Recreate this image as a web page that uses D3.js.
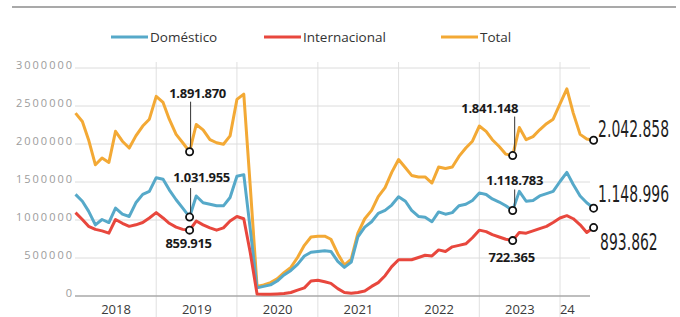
<!DOCTYPE html>
<html lang="es">
<head>
<meta charset="utf-8">
<script src="https://cdn.jsdelivr.net/npm/d3@7"></script>
<style>
  body { margin: 0; background: #fff; }
  svg { display: block; font-family: "Open Sans", sans-serif; }
</style>
</head>
<body>
<svg id="chart" width="680" height="317"></svg>
<script>
// monthly passengers, Jan 2018 .. Jun 2024
const domestico = [
  1330000, 1240000, 1110000, 930000, 1000000, 960000, 1150000, 1070000, 1040000, 1220000, 1330000, 1370000,
  1550000, 1530000, 1390000, 1260000, 1150000, 1031955, 1310000, 1220000, 1200000, 1180000, 1180000, 1290000,
  1570000, 1590000, 880000, 100000, 120000, 140000, 190000, 270000, 330000, 410000, 520000, 570000,
  580000, 590000, 580000, 450000, 370000, 440000, 770000, 900000, 970000, 1080000, 1120000, 1190000,
  1300000, 1240000, 1120000, 1040000, 1030000, 970000, 1100000, 1070000, 1090000, 1180000, 1200000, 1250000,
  1350000, 1330000, 1270000, 1230000, 1180000, 1118783, 1370000, 1240000, 1250000, 1310000, 1340000, 1370000,
  1500000, 1620000, 1460000, 1310000, 1220000, 1148996
];
const internacional = [
  1090000, 1000000, 910000, 870000, 850000, 820000, 1000000, 950000, 910000, 930000, 960000, 1020000,
  1090000, 1020000, 950000, 900000, 870000, 859915, 980000, 930000, 890000, 860000, 890000, 980000,
  1040000, 1010000, 570000, 20000, 15000, 15000, 20000, 25000, 40000, 70000, 100000, 190000,
  200000, 180000, 160000, 90000, 40000, 30000, 40000, 60000, 120000, 170000, 260000, 380000,
  470000, 470000, 470000, 500000, 530000, 520000, 600000, 580000, 640000, 660000, 680000, 760000,
  860000, 840000, 800000, 770000, 740000, 722365, 830000, 820000, 850000, 880000, 910000, 960000,
  1020000, 1050000, 1010000, 930000, 830000, 893862
];
const total = [
  2400000, 2290000, 2050000, 1720000, 1810000, 1750000, 2160000, 2030000, 1940000, 2100000, 2230000, 2320000,
  2620000, 2540000, 2320000, 2120000, 2010000, 1891870, 2250000, 2180000, 2050000, 2010000, 1990000, 2100000,
  2580000, 2650000, 1450000, 120000, 140000, 170000, 220000, 300000, 370000, 500000, 660000, 770000,
  780000, 780000, 740000, 550000, 400000, 480000, 820000, 1010000, 1120000, 1300000, 1420000, 1620000,
  1790000, 1680000, 1580000, 1560000, 1560000, 1480000, 1690000, 1670000, 1690000, 1830000, 1940000, 2030000,
  2230000, 2160000, 2050000, 1960000, 1860000, 1841148, 2210000, 2050000, 2090000, 2180000, 2260000, 2320000,
  2520000, 2720000, 2400000, 2120000, 2060000, 2042858
];
const seriesNames = ['Doméstico', 'Internacional', 'Total'];
const yTicks = [0, 500000, 1000000, 1500000, 2000000, 2500000, 3000000];
const xLabels = ['2018', '2019', '2020', '2021', '2022', '2023', '24'];
const markIdx = [17, 65]; // annotated months (Jun 2019, Jun 2023)

const fmt = d3.formatLocale({ decimal: ',', thousands: '.', grouping: [3] }).format(',d');
const colors = { 'Doméstico': '#56a9c9', 'Internacional': '#e8473d', 'Total': '#f3a935' };

const months = d3.range(total.length).map(i => d3.timeMonth.offset(new Date(2018, 0, 1), i));
const yearStarts = d3.range(2019, 2025).map(yr => new Date(yr, 0, 1));
const labelDates = d3.range(2018, 2024).map(yr => new Date(yr, 6, 1)).concat([new Date(2024, 1, 1)]);

const svg = d3.select('#chart');
const plotLeft = 75, plotRight = 590, plotTop = 67.5, plotBottom = 295.5;

const x = d3.scaleTime()
  .domain([new Date(2018, 0, 1), new Date(2024, 0, 1)])
  .range([75.5, 560]);
const y = d3.scaleLinear().domain([0, 3000000]).range([plotBottom, plotTop]);

// top rule
svg.append('line')
  .attr('x1', 12).attr('x2', 676).attr('y1', 7).attr('y2', 7)
  .attr('stroke', '#8c8c8c').attr('stroke-width', 1.6);

// legend
const legendX = [111, 264, 441];
const legend = svg.append('g').selectAll('g').data(seriesNames).join('g')
  .attr('transform', (d, i) => `translate(${legendX[i]},37)`);
legend.append('line')
  .attr('x1', 0).attr('x2', 37)
  .attr('stroke', d => colors[d]).attr('stroke-width', 3);
legend.append('text')
  .attr('x', 39).attr('dy', '0.35em')
  .attr('font-size', 13.5).attr('fill', '#333')
  .text(d => d);

// vertical year separators
svg.append('g')
  .selectAll('line').data(yearStarts).join('line')
  .attr('x1', d => x(d)).attr('x2', d => x(d))
  .attr('y1', 62).attr('y2', 317)
  .attr('stroke', '#e0e0e0').attr('stroke-width', 1);

// y axis with gridlines
const yAxis = svg.append('g')
  .attr('transform', `translate(${plotLeft},0)`)
  .call(d3.axisLeft(y).tickValues(yTicks).tickSize(-(plotRight - plotLeft)).tickFormat(d3.format('d')));
yAxis.select('.domain').remove();
yAxis.selectAll('.tick line')
  .attr('stroke', d => d === 0 ? '#a8a8a8' : '#dcdcdc')
  .attr('stroke-width', d => d === 0 ? 1.3 : 1);
yAxis.selectAll('.tick text')
  .attr('x', -1).attr('dy', '0.05em')
  .attr('font-family', '"Open Sans", sans-serif')
  .attr('font-size', 11).attr('letter-spacing', 2)
  .attr('fill', '#9c9c9c');

// x labels
const xAxis = svg.append('g')
  .attr('transform', `translate(0,${plotBottom})`)
  .call(d3.axisBottom(x).tickValues(labelDates).tickSize(0).tickFormat((d, i) => xLabels[i]));
xAxis.select('.domain').remove();
xAxis.selectAll('.tick text')
  .attr('y', 9).attr('dy', '0.71em')
  .attr('font-family', '"Open Sans", sans-serif')
  .attr('font-size', 13).attr('fill', '#3a3a3a');

// lines
const series = [
  { name: 'Total', values: total },
  { name: 'Doméstico', values: domestico },
  { name: 'Internacional', values: internacional }
];
const line = d3.line().x((d, i) => x(months[i])).y(d => y(d));
svg.append('g').selectAll('path').data(series).join('path')
  .attr('d', d => line(d.values))
  .attr('fill', 'none')
  .attr('stroke', d => colors[d.name])
  .attr('stroke-width', 3)
  .attr('stroke-linejoin', 'round');

// annotations
const ann = svg.append('g');
const boldText = (tx, ty, s) => ann.append('text')
  .attr('x', tx).attr('y', ty).attr('text-anchor', 'middle')
  .attr('font-weight', 700).attr('font-size', 13).attr('letter-spacing', -0.3)
  .attr('fill', '#1a1a1a').text(s);
const leader = (lx, y1, y2) => ann.append('line')
  .attr('x1', lx).attr('x2', lx).attr('y1', y1).attr('y2', y2)
  .attr('stroke', '#333').attr('stroke-width', 1);

// Jun 2019
{
  const i = markIdx[0], cx = x(months[i]);
  const ct = y(total[i]), cd = y(domestico[i]), ci = y(internacional[i]);
  leader(cx + 1, ct - 4, ct - 50);
  boldText(cx + 8, ct - 54, fmt(total[i]));
  leader(cx + 1, cd - 4, cd - 29);
  boldText(cx + 12, cd - 35, fmt(domestico[i]));
  boldText(cx - 1, ci + 18, fmt(internacional[i]));
}
// Jun 2023
{
  const i = markIdx[1], cx = x(months[i]);
  const ct = y(total[i]), cd = y(domestico[i]), ci = y(internacional[i]);
  leader(cx + 2, ct - 4, ct - 39);
  boldText(cx - 23, ct - 43, fmt(total[i]));
  leader(cx + 2, cd - 4, cd - 21);
  boldText(cx + 2, cd - 25, fmt(domestico[i]));
  boldText(cx - 1, ci + 21, fmt(internacional[i]));
}
// last month, large condensed labels (stretched vertically)
{
  const i = total.length - 1, cx = x(months[i]);
  const ends = [
    { v: total[i], dx: 4.5, dy: -11 },
    { v: domestico[i], dx: 4.5, dy: -14 },
    { v: internacional[i], dx: 6.5, dy: 14.5 }
  ];
  ends.forEach(e => {
    ann.append('text')
      .attr('transform', `translate(${cx + e.dx},${y(e.v) + e.dy}) scale(1,1.45)`)
      .attr('dy', '0.36em')
      .attr('font-family', '"DejaVu Sans Condensed", sans-serif')
      .attr('font-size', 15.5).attr('fill', '#1f1f1f')
      .text(fmt(e.v));
  });
}

// circles
const pts = [];
markIdx.concat([total.length - 1]).forEach(i => {
  [total, domestico, internacional].forEach(s => pts.push({ i, v: s[i] }));
});
ann.selectAll('circle').data(pts).join('circle')
  .attr('cx', d => x(months[d.i]))
  .attr('cy', d => y(d.v))
  .attr('r', 3.6)
  .attr('fill', '#fff')
  .attr('stroke', '#111')
  .attr('stroke-width', 1.8);
</script>
</body>
</html>
